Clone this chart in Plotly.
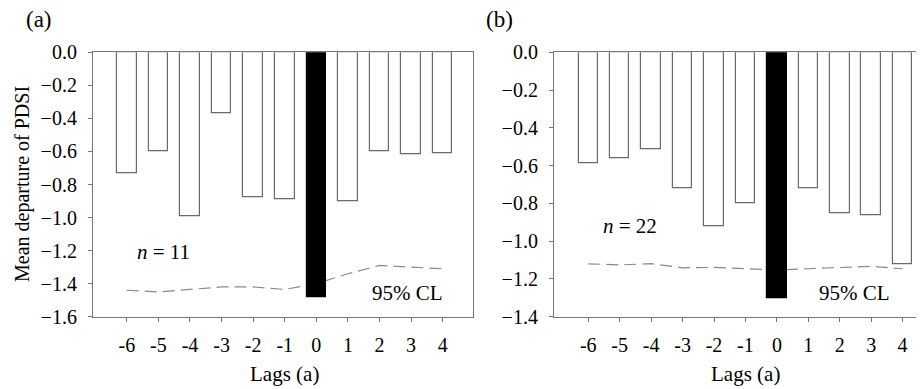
import plotly.graph_objects as go

W, H = 924, 389
OFF = 8  # page body margin in the viewer

lags = [-6, -5, -4, -3, -2, -1, 0, 1, 2, 3, 4]
tick_labels = ["-6", "-5", "-4", "-3", "-2", "-1", "0", "1", "2", "3", "4"]

pdsi_a = [-0.73, -0.60, -0.99, -0.37, -0.88, -0.89, -1.485, -0.90, -0.60, -0.62, -0.61]
cl_a = [-1.44, -1.45, -1.435, -1.42, -1.42, -1.435, -1.40, -1.34, -1.29, -1.30, -1.31]

pdsi_b = [-0.59, -0.56, -0.515, -0.72, -0.92, -0.80, -1.30, -0.72, -0.85, -0.865, -1.12]
cl_b = [-1.12, -1.126, -1.119, -1.141, -1.139, -1.146, -1.153, -1.146, -1.139, -1.133, -1.146]

GREY = "#777777"
FONT = "Liberation Serif"
FS = 20

def px_x(p):
    return (p - OFF) / W

def px_y(p):
    return 1 - (p - OFF) / H

fill = ["black" if l == 0 else "white" for l in lags]
edge = ["black" if l == 0 else "#6a6a6a" for l in lags]

fig = go.Figure()

# dashed confidence lines (underneath the bars)
dash_line = dict(color="#8a8a8a", width=1.2, dash="12px,6px")
fig.add_trace(go.Scatter(x=lags, y=cl_a, mode="lines", xaxis="x", yaxis="y",
                         line=dash_line, showlegend=False, hoverinfo="skip"))
fig.add_trace(go.Scatter(x=lags, y=cl_b, mode="lines", xaxis="x2", yaxis="y2",
                         line=dash_line, showlegend=False, hoverinfo="skip"))

# bars on overlaying axes (drawn above lines)
fig.add_trace(go.Bar(x=lags, y=pdsi_a, xaxis="x3", yaxis="y3", width=0.62,
                     marker=dict(color=fill, line=dict(color=edge, width=1.2)),
                     showlegend=False))
fig.add_trace(go.Bar(x=lags, y=pdsi_b, xaxis="x4", yaxis="y4", width=0.62,
                     marker=dict(color=fill, line=dict(color=edge, width=1.2)),
                     showlegend=False))

ya_dom = [px_y(316.7), px_y(52.3)]
xa_dom = [px_x(93), px_x(473.3)]
xb_dom = [px_x(554), px_x(924)]
xa_rng = [-7.07, 4.97]
xb_rng = [-7.09, 4.68]
ya_rng = [-1.6, 0]
yb_rng = [-1.4, 0]

tickfont = dict(family=FONT, size=FS, color="black")

xcommon = dict(tickmode="array", tickvals=lags, ticktext=tick_labels,
               showline=True, linecolor=GREY, linewidth=1.2, mirror=True,
               ticks="outside", ticklen=4, tickcolor=GREY, tickwidth=1,
               showgrid=False, zeroline=False, tickfont=tickfont,
               ticklabelstandoff=6, automargin=False)
ycommon = dict(showline=True, linecolor=GREY, linewidth=1.2,
               ticks="outside", ticklen=4, tickcolor=GREY, tickwidth=1,
               showgrid=False, zeroline=False, tickfont=tickfont,
               tickformat=".1f", dtick=0.2, ticklabelstandoff=7, automargin=False)
hidden = dict(visible=False, automargin=False)

fig.update_layout(
    width=W, height=H,
    margin=dict(l=0, r=0, t=0, b=0, autoexpand=False),
    paper_bgcolor="white", plot_bgcolor="white",
    font=dict(family=FONT, size=FS, color="black"),
    bargap=0,
    xaxis=dict(domain=xa_dom, range=xa_rng, anchor="y", **xcommon),
    yaxis=dict(domain=ya_dom, range=ya_rng, anchor="x", mirror=True, **ycommon),
    xaxis2=dict(domain=xb_dom, range=xb_rng, anchor="y2", **xcommon),
    yaxis2=dict(domain=ya_dom, range=yb_rng, anchor="x2", **ycommon),
    xaxis3=dict(overlaying="x", range=xa_rng, anchor="y3", **hidden),
    yaxis3=dict(overlaying="y", range=ya_rng, anchor="x3", **hidden),
    xaxis4=dict(overlaying="x2", range=xb_rng, anchor="y4", **hidden),
    yaxis4=dict(overlaying="y2", range=yb_rng, anchor="x4", **hidden),
)

def label(text, xp, yp, size=FS, angle=0):
    fig.add_annotation(text=text, x=px_x(xp), y=px_y(yp), xref="paper", yref="paper",
                       showarrow=False, xanchor="center", yanchor="middle",
                       textangle=angle,
                       font=dict(family=FONT, size=size, color="black"))

label("(a)", 39, 20, 23)
label("(b)", 500, 20, 23)
label("Lags (a)", 284, 374, 21)
label("Lags (a)", 745, 374, 21)
label("Mean departure of PDSI", 22, 184, angle=-90)
label("<i>n</i> = 11", 163, 252, 21)
label("<i>n</i> = 22", 630, 226, 21)
label("95% CL", 407, 293, 21)
label("95% CL", 854, 293, 21)

fig.write_html("out.html")
